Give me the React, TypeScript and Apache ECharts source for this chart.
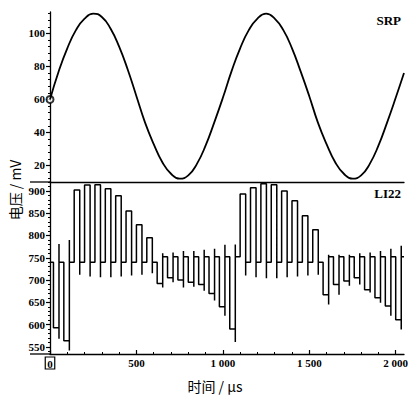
import React, { useEffect, useRef } from "react";
import * as echarts from "echarts";

// ---- SRP (top panel) ----
const srpTime = [0, 50, 100, 150, 200, 250, 300, 350, 400, 450, 500, 550, 600, 650, 700, 750, 800, 850, 900, 950, 1000, 1050, 1100, 1150, 1200, 1250, 1300, 1350, 1400, 1450, 1500, 1550, 1600, 1650, 1700, 1750, 1800, 1850, 1900, 1950, 2000, 2048];
const srpValue = [60, 77, 91, 102, 109, 112, 110, 103, 92, 78, 62, 46, 33, 22, 15, 12, 14, 21, 32, 46, 61, 77, 91, 102, 109, 112, 109, 102, 91, 77, 62, 46, 33, 22, 15, 12, 14, 21, 32, 46, 61, 76];
const srpMarker = [0, 60];

// ---- LI22 (bottom panel) ----
const baseLevel = 740;
const pulseWidth = 32;
const pulseStart = [20, 80, 140, 200, 260, 320, 380, 440, 500, 560, 620, 680, 740, 800, 860, 920, 980, 1040, 1100, 1160, 1220, 1280, 1340, 1400, 1460, 1520, 1580, 1640, 1700, 1760, 1820, 1880, 1940, 2000];
const pulseLevel = [593, 564, 902, 913, 914, 905, 889, 855, 824, 795, 692, 705, 700, 695, 690, 670, 640, 590, 893, 907, 916, 914, 900, 878, 844, 813, 667, 690, 698, 705, 678, 660, 642, 611];
const pulseEdge = [568, 542, 902, 913, 914, 905, 889, 855, 824, 795, 683, 695, 683, 685, 676, 654, 620, 561, 893, 907, 916, 914, 900, 878, 844, 813, 645, 667, 687, 690, 672, 649, 620, 589];
const pulseKick = [781, 790, 712, 708, 706, 706, 708, 710, 712, 715, 760, 762, 765, 765, 768, 770, 779, 780, 710, 706, 704, 704, 706, 708, 710, 712, 757, 757, 757, 760, 762, 765, 770, 777];
const pulseSettle = [740, 740, 740, 740, 740, 740, 740, 740, 740, 740, 752, 752, 752, 752, 752, 752, 752, 752, 740, 740, 740, 740, 740, 740, 740, 740, 752, 752, 752, 752, 752, 752, 752, 752];

// ---- axes ----
const xMax = 2048;
const xTicks = [0, 500, 1000, 1500, 2000];
const xTickLabels = ["0", "500", "1 000", "1 500", "2 000"];
const srpTicks = [20, 40, 60, 80, 100];
const liTicks = [550, 600, 650, 700, 750, 800, 850, 900];
const srpRange = [10, 113];
const liRange = [534, 920];

function minorValues(lo: number, hi: number, step: number, majors: number[]) {
  const out: number[] = [];
  for (let v = Math.ceil(lo / step) * step; v <= hi; v += step) {
    if (!majors.includes(v)) out.push(v);
  }
  return out;
}

const FONT = "'Liberation Serif', 'DejaVu Serif', serif";
const CJK = "'Noto Sans CJK SC', sans-serif";

export default function App() {
  const ref = useRef<HTMLDivElement>(null);
  useEffect(() => {
    if (!ref.current) return;
    const chart = echarts.init(ref.current, undefined, { renderer: "svg" });

    const srpData = srpTime.map((t, i) => [t, srpValue[i]]);
    const li: number[][] = [[0, baseLevel]];
    pulseStart.forEach((t, i) => {
      const prev = li[li.length - 1][1];
      const e = t + pulseWidth;
      li.push([t, prev]);
      li.push([t, pulseLevel[i]]);
      li.push([e, pulseLevel[i]]);
      li.push([e, pulseEdge[i]]);
      li.push([e, pulseKick[i]]);
      li.push([e, pulseSettle[i]]);
    });
    li.push([xMax, li[li.length - 1][1]]);

    const black = "#000";
    const labelStyle = { color: black, fontFamily: FONT, fontWeight: "bold" as const, fontSize: 11 };
    const L = 50;
    const R = 8;

    const majorY = (gridIndex: number, range: number[], ticks: number[]) => ({
      type: "value",
      gridIndex,
      min: range[0],
      max: range[1],
      position: "left",
      axisLine: { show: true, lineStyle: { color: black, width: 1.3 } },
      axisTick: { show: true, customValues: ticks, length: 4, lineStyle: { color: black, width: 1.2 } },
      axisLabel: { show: true, customValues: ticks, margin: 5, ...labelStyle },
      splitLine: { show: false },
    });
    const minorY = (gridIndex: number, range: number[], step: number, ticks: number[]) => ({
      type: "value",
      gridIndex,
      min: range[0],
      max: range[1],
      position: "left",
      axisLine: { show: false },
      axisTick: { show: true, customValues: minorValues(range[0], range[1], step, ticks), length: 2, lineStyle: { color: black, width: 1 } },
      axisLabel: { show: false },
      splitLine: { show: false },
    });

    chart.setOption({
      animation: false,
      backgroundColor: "#fff",
      grid: [
        { left: L, right: R, top: 12, height: 170, containLabel: false, outerBoundsMode: "none" },
        { left: L, right: R, top: 182, height: 172, containLabel: false, outerBoundsMode: "none" },
      ],
      xAxis: [
        {
          type: "value",
          gridIndex: 0,
          min: 0,
          max: xMax,
          axisLine: { show: true, onZero: false, lineStyle: { color: black, width: 1.3 } },
          axisTick: { show: false },
          axisLabel: { show: false },
          splitLine: { show: false },
        },
        {
          type: "value",
          gridIndex: 1,
          min: 0,
          max: xMax,
          interval: 500,
          axisLine: { show: true, onZero: false, lineStyle: { color: black, width: 1.3 } },
          axisTick: { show: true, inside: true, length: 4, customValues: xTicks, lineStyle: { color: black, width: 1.2 } },
          minorTick: { show: true, splitNumber: 5, length: 2, lineStyle: { color: black, width: 1 } },
          axisLabel: {
            show: true,
            customValues: xTicks,
            margin: 3,
            ...labelStyle,
            formatter: (v: number) => {
              const i = xTicks.indexOf(v);
              const s = i >= 0 ? xTickLabels[i] : "";
              return v === 0 ? "{b|" + s + "}" : s;
            },
            rich: {
              b: { ...labelStyle, borderColor: black, borderWidth: 1.2, padding: [1, 2, 0, 2] },
            },
          },
          splitLine: { show: false },
        },
      ],
      yAxis: [
        majorY(0, srpRange, srpTicks),
        minorY(0, srpRange, 4, srpTicks),
        majorY(1, liRange, liTicks),
        minorY(1, liRange, 10, liTicks),
      ],
      series: [
        {
          type: "line",
          name: "SRP",
          xAxisIndex: 0,
          yAxisIndex: 0,
          data: srpData,
          smooth: true,
          showSymbol: false,
          lineStyle: { color: black, width: 1.8 },
        },
        {
          type: "scatter",
          xAxisIndex: 0,
          yAxisIndex: 0,
          data: [srpMarker],
          symbol: "emptyCircle",
          symbolSize: 7,
          clip: false,
          itemStyle: { color: black, borderColor: black, borderWidth: 1 },
        },
        {
          type: "line",
          name: "LI22",
          xAxisIndex: 1,
          yAxisIndex: 2,
          data: li,
          showSymbol: false,
          lineStyle: { color: black, width: 1.5 },
        },
      ],
      graphic: [
        { type: "line", shape: { x1: 30, y1: 182, x2: L, y2: 182 }, style: { stroke: black, lineWidth: 1.3 } },
        { type: "line", shape: { x1: 30, y1: 354, x2: L, y2: 354 }, style: { stroke: black, lineWidth: 1.3 } },
        {
          type: "text",
          x: 401,
          y: 14,
          style: { text: "SRP", fill: black, font: "bold 13px " + FONT, textAlign: "right", textVerticalAlign: "top" },
        },
        {
          type: "text",
          x: 401,
          y: 187,
          style: { text: "LI22", fill: black, font: "bold 13px " + FONT, textAlign: "right", textVerticalAlign: "top" },
        },
        {
          type: "text",
          x: 15,
          y: 190,
          rotation: Math.PI / 2,
          style: { text: "电压 / mV", fill: black, font: "14px " + CJK, textAlign: "center", textVerticalAlign: "middle" },
        },
        {
          type: "text",
          x: 215,
          y: 386,
          style: { text: "时间 / μs", fill: black, font: "14px " + CJK, textAlign: "center", textVerticalAlign: "middle" },
        },
      ],
    });
    return () => chart.dispose();
  }, []);
  return (
    <div
      ref={ref}
      style={{ position: "fixed", left: 0, top: 0, width: 412, height: 398, background: "#fff" }}
    />
  );
}
